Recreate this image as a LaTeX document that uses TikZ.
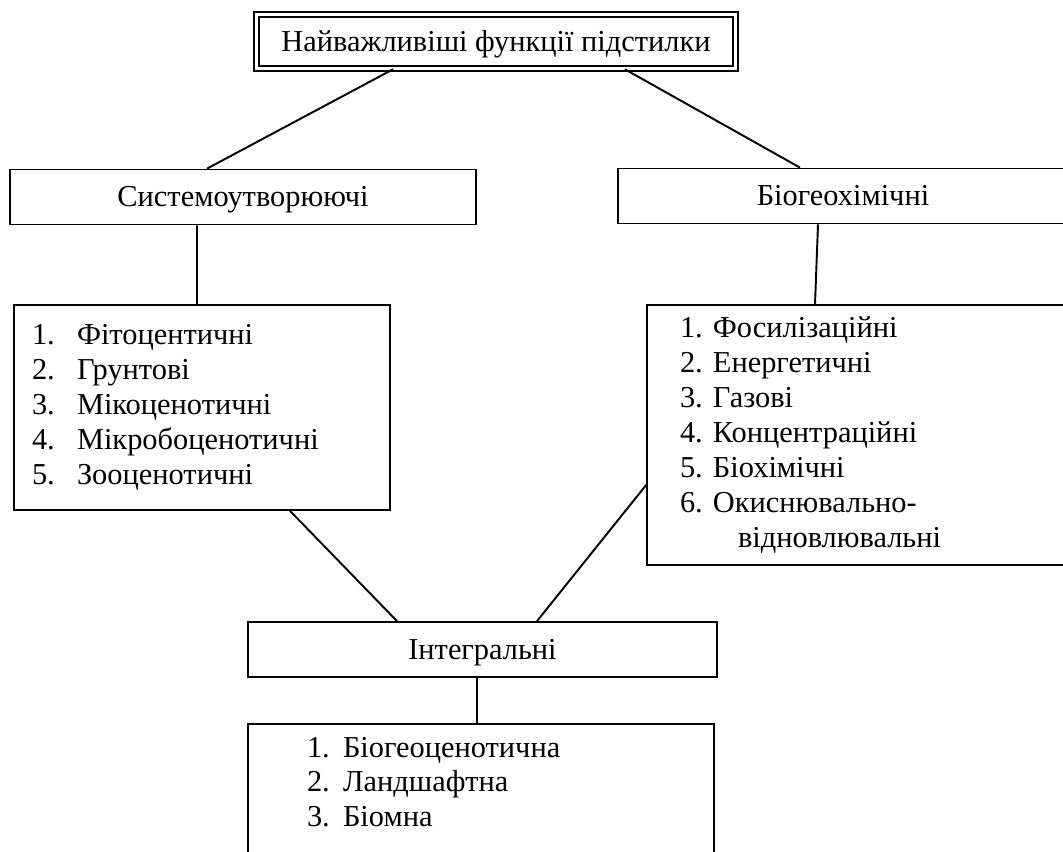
\documentclass[tikz,border=0pt]{standalone}
\usepackage{fontspec}
\setmainfont{Liberation Serif}
\usepackage{tikz}
\tikzstyle{titlebox} = [rectangle, draw=black, double, double distance=2pt, line width=0.9pt, minimum width=9.58cm, minimum height=1.08cm, text height=13pt, text depth=2pt, text centered]
\tikzstyle{groupbox} = [rectangle, draw=black, line width=1pt, minimum height=1.1cm, text height=13pt, text depth=2pt, text centered]
\tikzstyle{listbox} = [rectangle, draw=black, line width=1pt, align=left]
\tikzstyle{link} = [line width=1.1pt]

\begin{document}
\begin{tikzpicture}[x=0.02cm, y=-0.02cm, every node/.style={font=\fontsize{17.3}{19.9}\selectfont\frenchspacing}]
        \useasboundingbox (0,0) rectangle (1063,852);
        \clip (0,0) rectangle (1063,852);

        % Title
        \node (top) [titlebox] at (496,41.5) {Найважливіші функції підстилки};

        % Groups
        \node (sys) [groupbox, minimum width=9.32cm] at (243,197) {Системоутворюючі};
        \node (bio) [groupbox, minimum width=9cm] at (843,196) {Біогеохімічні};

        % Lists
        \node (syslist) [listbox, text width=6.8cm, inner xsep=0.36cm, minimum height=4.1cm] at (202,407.5)
            {\makebox[0.9cm][l]{1.}Фітоцентичні\\
             \makebox[0.9cm][l]{2.}Грунтові\\
             \makebox[0.9cm][l]{3.}Мікоценотичні\\
             \makebox[0.9cm][l]{4.}Мікробоценотичні\\
             \makebox[0.9cm][l]{5.}Зооценотичні};
        \node (biolist) [listbox, text width=7.24cm, inner xsep=0.66cm, minimum height=5.2cm] at (861,435)
            {1. Фосилізаційні\\
             2. Енергетичні\\
             3. Газові\\
             4. Концентраційні\\
             5. Біохімічні\\
             6. Окиснювально-\\
             \hspace*{1.16cm}відновлювальні};

        % Integral
        \node (integ) [groupbox, minimum width=9.38cm] at (482.5,649.5) {Інтегральні};
        \node (intlist) [listbox, inner xsep=1.18cm, inner ysep=0.26cm, anchor=north] at (481,723)
            {\parbox[t][3.5cm][t]{6.96cm}{\makebox[0.72cm][l]{1.}Біогеоценотична\\
             \makebox[0.72cm][l]{2.}Ландшафтна\\
             \makebox[0.72cm][l]{3.}Біомна}};

        % Lines
        \draw [link] ([xshift=-2.06cm]top.south) -- ([xshift=-0.72cm]sys.north);
        \draw [link] ([xshift=2.58cm]top.south) -- ([xshift=-0.86cm]bio.north);
        \draw [link] ([xshift=-0.92cm]sys.south) -- ([xshift=-0.1cm]syslist.north);
        \draw [link] ([xshift=-0.5cm]bio.south) -- ([xshift=-0.92cm]biolist.north);
        \draw [link] ([xshift=1.76cm]syslist.south) -- ([xshift=-1.71cm]integ.north);
        \draw [link] ([yshift=-1.0cm]biolist.west) -- ([xshift=1.09cm]integ.north);
        \draw [link] ([xshift=-0.11cm]integ.south) -- ([xshift=-0.08cm]intlist.north);

\end{tikzpicture}
\end{document}
